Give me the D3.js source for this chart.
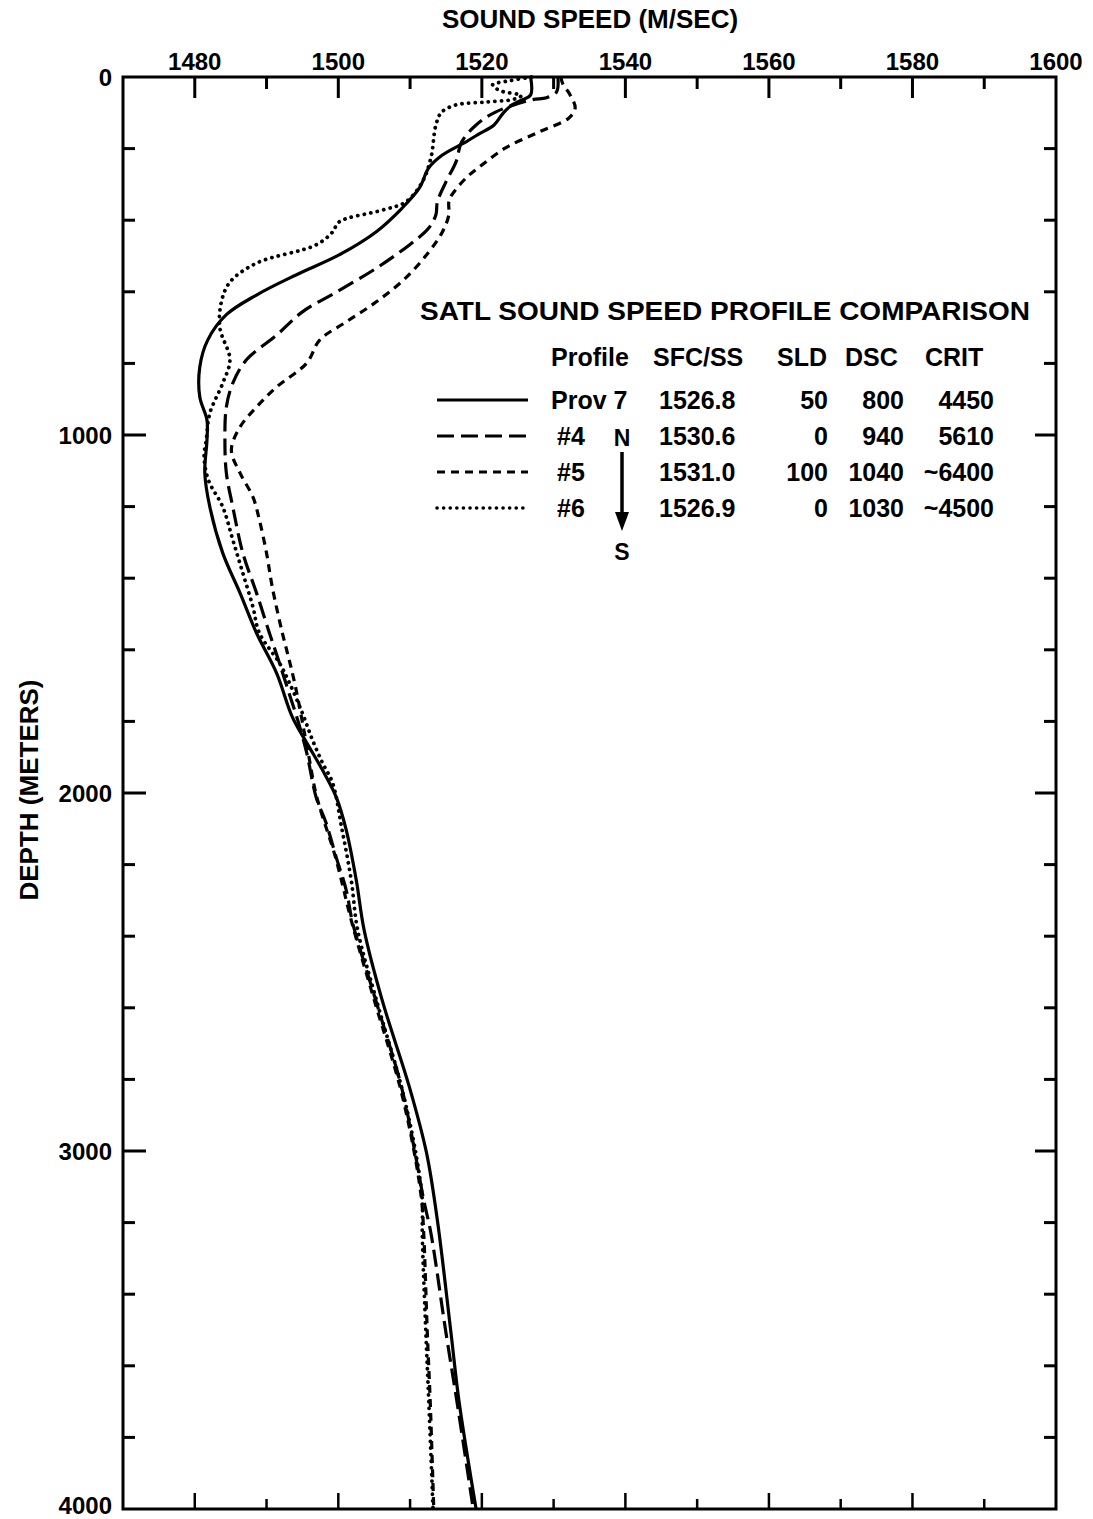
<!DOCTYPE html>
<html><head><meta charset="utf-8">
<script src="https://cdn.jsdelivr.net/npm/d3@7"></script>
<style>
body{margin:0;background:#fff}
text{font-family:"Liberation Sans",Arial,Helvetica,sans-serif;font-weight:bold;fill:#000}
</style>
</head><body>
<svg id="chart" width="1093" height="1519"></svg>
<script>
// ---- axis ticks / labels ----
const xTickValues = [1470,1480,1490,1500,1510,1520,1530,1540,1550,1560,1570,1580,1590,1600];
const xTickLabels = [1480,1500,1520,1540,1560,1580,1600];
const yTickValues = [0,200,400,600,800,1000,1200,1400,1600,1800,2000,2200,2400,2600,2800,3000,3200,3400,3600,3800,4000];
const yTickLabels = [0,1000,2000,3000,4000];

// ---- series (depth m, sound speed m/s) ----
const prov7Depth = [0,50,65,78,100,134,160,181,218,254,310,366,432,497,553,609,664,735,810,894,958,1014,1106,1201,1330,1441,1553,1665,1788,1860,1936,2011,2103,2243,2383,2578,2821,3006,3193,3508,3696,4000];
const prov7Speed = [1526.8,1526.8,1525.5,1524.2,1523.0,1521.7,1519.5,1517.8,1514.5,1512.6,1511.3,1508.9,1505.3,1500.1,1494.1,1488.6,1484.4,1481.8,1480.7,1480.7,1481.7,1481.7,1481.4,1482.1,1483.9,1486.3,1488.6,1491.4,1493.6,1495.6,1497.8,1499.7,1501.1,1502.5,1503.6,1506.1,1509.9,1512.3,1513.8,1515.7,1516.8,1519.2];

const p4Depth = [0,42,58,64,98,134,181,237,293,349,385,422,469,534,601,656,721,790,855,922,1014,1106,1201,1330,1441,1553,1637,1700,1800,1888,2011,2084,2179,2271,2363,2578,2821,3006,3137,3229,3508,3696,4000];
const p4Speed = [1530.6,1530.4,1529.0,1526.9,1521.9,1519.2,1517.2,1516.4,1515.0,1513.8,1513.6,1512.6,1509.9,1505.3,1499.7,1495.0,1491.4,1487.2,1485.3,1484.4,1484.2,1484.4,1485.3,1486.7,1488.6,1490.4,1491.8,1492.8,1494.4,1495.6,1496.9,1498.3,1499.7,1501.1,1502.0,1505.2,1508.8,1510.7,1511.9,1512.9,1515.0,1516.5,1518.8];

const p5Depth = [0,20,50,87,115,154,198,246,282,330,349,385,433,489,561,628,684,735,799,866,922,978,1042,1106,1173,1237,1330,1425,1553,1600,1700,1888,2011,2179,2363,2578,2821,3006,3137,3229,3508,3696,4000];
const p5Speed = [1531.0,1531.3,1532.3,1533.0,1532.1,1527.9,1523.3,1520.0,1517.8,1515.8,1515.4,1515.4,1514.5,1512.6,1509.4,1505.3,1501.1,1497.4,1495.6,1491.4,1488.6,1486.3,1485.1,1486.3,1488.1,1489.0,1490.0,1490.8,1492.2,1492.8,1494.0,1495.8,1497.0,1499.6,1501.9,1505.0,1508.6,1510.6,1511.6,1511.9,1512.4,1512.8,1513.3];

const p6Depth = [0,10,22,38,52,62,70,78,98,134,226,293,349,372,405,433,469,520,573,629,701,790,855,939,1014,1060,1126,1201,1293,1386,1480,1553,1637,1693,1777,1852,1916,1972,2100,2243,2383,2578,2821,3006,3137,3229,3508,3696,4000];
const p6Speed = [1526.9,1524.0,1521.5,1522.5,1525.5,1524.5,1520.5,1516.4,1514.4,1513.6,1512.9,1511.7,1509.4,1506.1,1500.1,1499.2,1496.9,1488.6,1484.9,1483.7,1483.5,1484.9,1483.9,1482.1,1481.6,1481.3,1481.9,1483.9,1485.3,1486.7,1488.1,1489.0,1491.8,1493.2,1495.0,1496.4,1497.8,1499.2,1500.5,1501.8,1502.7,1505.3,1508.8,1510.8,1511.7,1511.7,1512.2,1512.6,1513.2];

// ---- legend table ----
const legendTitle = "SATL SOUND SPEED PROFILE COMPARISON";
const legendHeaders = ["Profile","SFC/SS","SLD","DSC","CRIT"];
const profileNames = ["Prov 7","#4","#5","#6"];
const sfcSS = ["1526.8","1530.6","1531.0","1526.9"];
const sldVals = ["50","0","100","0"];
const dscVals = ["800","940","1040","1030"];
const critVals = ["4450","5610","~6400","~4500"];

const dashStyles = [null, "17 7", "8 6", "0.1 6.5"];

const svg = d3.select("#chart");
const x = d3.scaleLinear().domain([1470,1600]).range([123,1056]);
const y = d3.scaleLinear().domain([0,4000]).range([77,1509]);

// frame
svg.append("rect").attr("x",x(1470)).attr("y",y(0)).attr("width",x(1600)-x(1470)).attr("height",y(4000)-y(0))
  .attr("fill","none").attr("stroke","#000").attr("stroke-width",3);

const isMajorX = v => xTickLabels.includes(v);
const isMajorY = v => yTickLabels.includes(v);

// top ticks (inward) & bottom ticks (inward)
const xt = xTickValues.filter(v => v>1470 && v<1600);
svg.append("g").selectAll("line").data(xt).join("line")
  .attr("x1",d=>x(d)).attr("x2",d=>x(d)).attr("y1",y(0)).attr("y2",d=>y(0)+(isMajorX(d)?21:12))
  .attr("stroke","#000").attr("stroke-width",3);
svg.append("g").selectAll("line").data(xt).join("line")
  .attr("x1",d=>x(d)).attr("x2",d=>x(d)).attr("y1",y(4000)).attr("y2",d=>y(4000)-(isMajorX(d)?16:10))
  .attr("stroke","#000").attr("stroke-width",2.5);

const yt = yTickValues.filter(v => v>0 && v<4000);
svg.append("g").selectAll("line").data(yt).join("line")
  .attr("y1",d=>y(d)).attr("y2",d=>y(d)).attr("x1",x(1470)).attr("x2",d=>x(1470)+(isMajorY(d)?23:12))
  .attr("stroke","#000").attr("stroke-width",3);
svg.append("g").selectAll("line").data(yt).join("line")
  .attr("y1",d=>y(d)).attr("y2",d=>y(d)).attr("x1",x(1600)).attr("x2",d=>x(1600)-(isMajorY(d)?21:12))
  .attr("stroke","#000").attr("stroke-width",3);

// tick labels
svg.append("g").selectAll("text").data(xTickLabels).join("text")
  .attr("x",d=>x(d)).attr("y",70).attr("text-anchor","middle").attr("font-size",24).text(d=>d);
svg.append("g").selectAll("text").data(yTickLabels).join("text")
  .attr("x",112).attr("y",d=>Math.min(y(d),1505)).attr("dy","0.36em").attr("text-anchor","end").attr("font-size",24).text(d=>d);

// axis titles
svg.append("text").attr("x",590).attr("y",28).attr("text-anchor","middle").attr("font-size",26).text("SOUND SPEED (M/SEC)");
svg.append("text").attr("transform","translate(38,790) rotate(-90)").attr("text-anchor","middle").attr("font-size",26).text("DEPTH (METERS)");

// profiles
const series = [
  {d:prov7Depth, s:prov7Speed},
  {d:p4Depth, s:p4Speed},
  {d:p5Depth, s:p5Speed},
  {d:p6Depth, s:p6Speed}
];
const line = d3.line().x(p=>x(p[1])).y(p=>y(p[0])).curve(d3.curveCatmullRom.alpha(0.5));
series.forEach((sr,i)=>{
  const pts = sr.d.map((dv,k)=>[dv, sr.s[k]]);
  const p = svg.append("path").attr("d",line(pts)).attr("fill","none").attr("stroke","#000")
    .attr("stroke-width", i===3?3.8:3.2).attr("stroke-linejoin","round");
  if (dashStyles[i]) p.attr("stroke-dasharray",dashStyles[i]);
  if (i===3) p.attr("stroke-linecap","round");
});

// legend
svg.append("text").attr("x",420).attr("y",320).attr("font-size",25).attr("textLength",610)
  .attr("lengthAdjust","spacingAndGlyphs").text(legendTitle);
const headX = [551,653,777,845,925];
svg.append("g").selectAll("text").data(legendHeaders).join("text")
  .attr("x",(d,i)=>headX[i]).attr("y",366).attr("font-size",25).text(d=>d);

const rowY = [400,436,472,508];
profileNames.forEach((nm,i)=>{
  const cy = rowY[i];
  const ln = svg.append("line").attr("x1",437).attr("x2",528).attr("y1",cy).attr("y2",cy)
    .attr("stroke","#000").attr("stroke-width", i===3?3.6:3.2);
  if (dashStyles[i]) ln.attr("stroke-dasharray",dashStyles[i]);
  if (i===3) ln.attr("stroke-linecap","round");
  svg.append("text").attr("x", i===0?551:557).attr("y",cy+9).attr("font-size",25).text(nm);
  svg.append("text").attr("x",659).attr("y",cy+9).attr("font-size",25).text(sfcSS[i]);
  svg.append("text").attr("x",828).attr("y",cy+9).attr("font-size",25).attr("text-anchor","end").text(sldVals[i]);
  svg.append("text").attr("x",904).attr("y",cy+9).attr("font-size",25).attr("text-anchor","end").text(dscVals[i]);
  svg.append("text").attr("x",994).attr("y",cy+9).attr("font-size",25).attr("text-anchor","end").text(critVals[i]);
});
// N -> S arrow
svg.append("text").attr("x",622).attr("y",446).attr("text-anchor","middle").attr("font-size",23).text("N");
svg.append("line").attr("x1",622).attr("x2",622).attr("y1",452).attr("y2",518).attr("stroke","#000").attr("stroke-width",3.5);
svg.append("path").attr("d","M615,512 L629,512 L622,531 Z").attr("fill","#000");
svg.append("text").attr("x",622).attr("y",560).attr("text-anchor","middle").attr("font-size",23).text("S");
</script>
</body></html>
